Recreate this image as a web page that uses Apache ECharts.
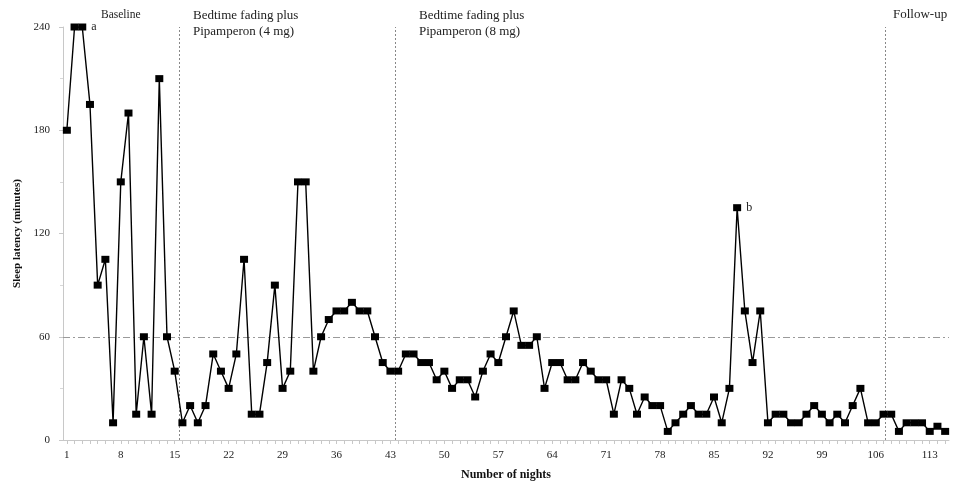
<!DOCTYPE html>
<html>
<head>
<meta charset="utf-8">
<script src="https://cdn.jsdelivr.net/npm/echarts@6/dist/echarts.min.js"></script>
<style>html,body{margin:0;padding:0;background:#fff}#c{width:953px;height:487px}</style>
</head>
<body>
<div id="c"></div>
<script>
const nights = Array.from({length: 115}, (_, i) => i + 1);
const sleepLatency = [
  180, 240, 240, 195, 90, 105, 10, 150, 190, 15,
  60, 15, 210, 60, 40, 10, 20, 10, 20, 50,
  40, 30, 50, 105, 15, 15, 45, 90, 30, 40,
  150, 150, 40, 60, 70, 75, 75, 80, 75, 75,
  60, 45, 40, 40, 50, 50, 45, 45, 35, 40,
  30, 35, 35, 25, 40, 50, 45, 60, 75, 55,
  55, 60, 30, 45, 45, 35, 35, 45, 40, 35,
  35, 15, 35, 30, 15, 25, 20, 20, 5, 10,
  15, 20, 15, 15, 25, 10, 30, 135, 75, 45,
  75, 10, 15, 15, 10, 10, 15, 20, 15, 10,
  15, 10, 20, 30, 10, 10, 15, 15, 5, 10,
  10, 10, 5, 8, 5
];
const xTickLabels = [1, 8, 15, 22, 29, 36, 43, 50, 57, 64, 71, 78, 85, 92, 99, 106, 113];
const phaseBreaks = [15.65, 43.6, 107.2];
const criterionLine = 60;
const annotations = [{night: 3, text: 'a'}, {night: 88, text: 'b'}];

const FONT = '"Liberation Serif", "Times New Roman", serif';
const chart = echarts.init(document.getElementById('c'));
const data = nights.map((n, i) => [n, sleepLatency[i]]);

chart.setOption({
  animation: false,
  backgroundColor: '#fff',
  grid: {left: 63, right: 4, top: 27, bottom: 47},
  xAxis: {
    type: 'value', min: 0.5, max: 115.5,
    name: 'Number of nights', nameLocation: 'middle', nameGap: 29,
    nameTextStyle: {fontFamily: FONT, fontSize: 12, fontWeight: 'bold', color: '#111'},
    axisLine: {show: true, lineStyle: {color: '#c8c8c8', width: 1}},
    axisTick: {show: true, customValues: nights, length: 4, lineStyle: {color: '#c8c8c8'}},
    axisLabel: {customValues: xTickLabels, fontFamily: FONT, fontSize: 11, color: '#222', margin: 10},
    splitLine: {show: false}
  },
  yAxis: {
    type: 'value', min: 0, max: 240, interval: 60,
    name: 'Sleep latency (minutes)', nameLocation: 'middle', nameGap: 38, nameRotate: 90,
    nameTextStyle: {fontFamily: FONT, fontSize: 11, fontWeight: 'bold', color: '#111'},
    axisLine: {show: true, lineStyle: {color: '#c8c8c8', width: 1}},
    axisTick: {show: true, length: 4, lineStyle: {color: '#c8c8c8'}},
    minorTick: {show: true, splitNumber: 2, length: 3, lineStyle: {color: '#d8d8d8'}},
    axisLabel: {fontFamily: FONT, fontSize: 11, color: '#222', margin: 13},
    splitLine: {show: false}
  },
  series: [{
    type: 'line',
    data: data,
    symbol: 'rect',
    symbolSize: [8, 7],
    itemStyle: {color: '#000'},
    lineStyle: {color: '#000', width: 1.4},
    z: 5,
    markLine: {
      silent: true, symbol: 'none', label: {show: false},
      data: [
        {yAxis: criterionLine, lineStyle: {color: '#9a9a9a', type: [7, 3, 2, 3], width: 1}},
        ...phaseBreaks.map(b => ({xAxis: b, lineStyle: {color: '#888', type: [2, 2], width: 1}}))
      ]
    },
    markPoint: {
      silent: true,
      symbol: 'rect', symbolSize: 0,
      label: {show: true, position: 'right', distance: 9, fontFamily: FONT, fontSize: 12, color: '#222', formatter: p => p.name},
      data: annotations.map(a => ({name: a.text, coord: [a.night, sleepLatency[a.night - 1]]}))
    }
  }],
  graphic: [
    {type: 'text', left: 101, top: 9, style: {text: 'Baseline', font: '11.5px ' + FONT, fill: '#222'}},
    {type: 'text', left: 193, top: 8, style: {text: 'Bedtime fading plus\nPipamperon (4 mg)', font: '13px ' + FONT, fill: '#222', lineHeight: 16}},
    {type: 'text', left: 419, top: 8, style: {text: 'Bedtime fading plus\nPipamperon (8 mg)', font: '13px ' + FONT, fill: '#222', lineHeight: 16}},
    {type: 'text', left: 893, top: 8, style: {text: 'Follow-up', font: '13px ' + FONT, fill: '#222'}}
  ]
});
</script>
</body>
</html>
